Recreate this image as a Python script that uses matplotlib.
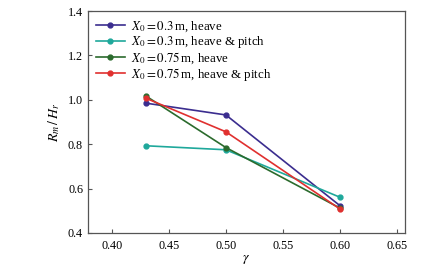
import numpy as np
from matplotlib import pyplot as plt

plt.rcParams["font.family"] = ["Liberation Serif", "DejaVu Serif"]
plt.rcParams["mathtext.fontset"] = "stix"

# gamma values and R_m/H_r
gamma = [0.43, 0.50, 0.60]
heave_03 = [0.985, 0.932, 0.523]
pitch_03 = [0.793, 0.775, 0.561]
heave_075 = [1.017, 0.785, 0.512]
pitch_075 = [1.007, 0.856, 0.508]

labels = [
    r"$X_0=0.3\,$m, heave",
    r"$X_0=0.3\,$m, heave & pitch",
    r"$X_0=0.75\,$m, heave",
    r"$X_0=0.75\,$m, heave & pitch",
]
colors = ["#3b2d8f", "#1fa89b", "#2b6b2d", "#e0302f"]

fig = plt.figure(figsize=(4.35, 2.78), dpi=100)
ax = fig.add_axes([0.202, 0.162, 0.729, 0.798])

for series, lab, c in zip([heave_03, pitch_03, heave_075, pitch_075], labels, colors):
    ax.plot(gamma, series, color=c, lw=1.2, marker="o", ms=3.5, label=lab)

ax.set_xlim(0.379, 0.657)
ax.set_ylim(0.4, 1.4)
ax.set_xticks(np.arange(0.40, 0.651, 0.05))
ax.set_yticks(np.arange(0.4, 1.41, 0.2))
ax.set_xticklabels(["0.40", "0.45", "0.50", "0.55", "0.60", "0.65"])
ax.set_yticklabels(["0.4", "0.6", "0.8", "1.0", "1.2", "1.4"])
ax.tick_params(direction="in", length=3, labelsize=8.7, color="#555555")
ax.tick_params(axis="x", pad=5)
for s in ax.spines.values():
    s.set_color("#555555")
    s.set_linewidth(0.9)

ax.set_xlabel(r"$\gamma$", fontsize=10, labelpad=1)
ax.set_ylabel(r"$R_m\,/\,H_r$", fontsize=10, labelpad=4)

ax.legend(loc="upper left", frameon=False, fontsize=9.3, handlelength=2.2,
          labelspacing=0.0, borderaxespad=0.3, borderpad=0.35, handletextpad=0.5)

fig.savefig("out.png", dpi=100)
